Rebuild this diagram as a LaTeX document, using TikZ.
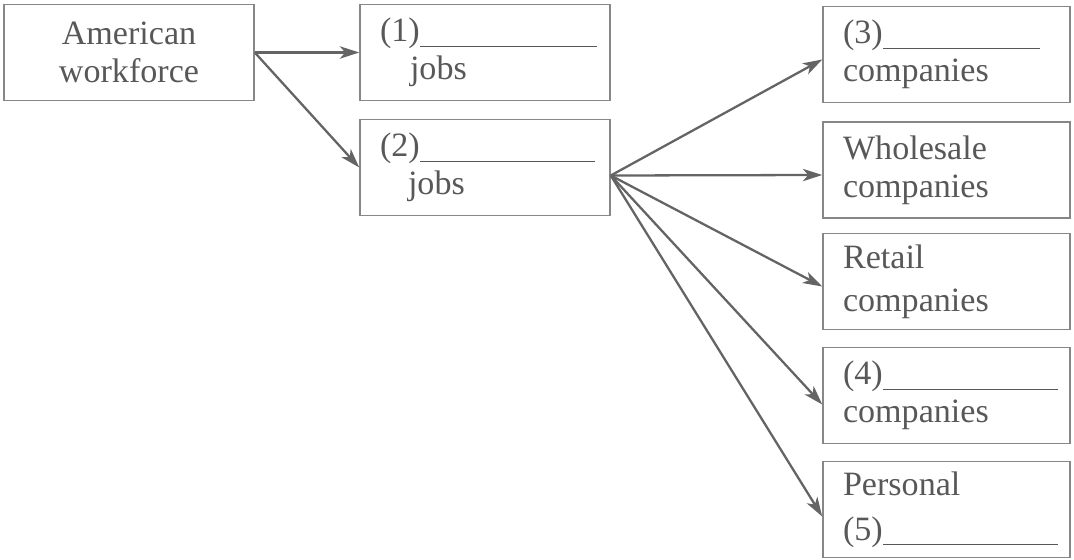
\documentclass[tikz,border=0pt]{standalone}
\usepackage{fontspec}
\setmainfont{Liberation Serif}
\usetikzlibrary{arrows.meta}
\definecolor{inkgray}{RGB}{88,88,88}
\definecolor{boxgray}{RGB}{135,135,135}
\definecolor{arrowgray}{RGB}{100,100,100}
\newcommand{\blankline}[1]{\rule[-3pt]{#1}{0.8pt}}

\begin{document}
\begin{tikzpicture}[
  % one unit = one pixel of the worksheet, y grows downwards
  x=0.02cm, y=-0.02cm,
  >={Stealth[length=11pt, width=7pt, inset=3pt]},
  % plain box style
  wsbox/.style={
    draw=boxgray, line width=0.9pt, minimum height=1.92cm,
    inner xsep=0.4cm, inner ysep=0pt, text=inkgray,
    font=\fontsize{19.4}{21.5}\selectfont
  },
  % middle and right column boxes
  midbox/.style={wsbox, text width=4.2cm, align=left},
  rightbox/.style={wsbox, text width=4.14cm, align=left},
  % connector
  link/.style={->, draw=arrowgray, line width=1.3pt}
]
\useasboundingbox (0,0) rectangle (1074,560);

% ─── Left column ────────────────────────────────────────────────────────────
\node[wsbox, text width=4.2cm, align=center] (workforce)
  at (129, 52.5) {American\\workforce};

% ─── Middle column ──────────────────────────────────────────────────────────
\node[midbox] (jobsone) at (485, 52.5)
  {(1)\blankline{3.54cm}\\\hspace*{0.6cm}jobs};
\node[midbox] (jobstwo) at (485, 167.5)
  {(2)\blankline{3.5cm}\\\hspace*{0.56cm}jobs};

\draw[link] (workforce.east) -- (jobsone.west);
\draw[link] (workforce.east) -- (jobstwo.west);

% ─── Right column ───────────────────────────────────────────────────────────
\node[rightbox] (compthree) at (946.5, 54.5)
  {(3)\blankline{3.14cm}\\companies};
\node[rightbox] (wholesale) at (946.5, 170)
  {Wholesale\\companies};
\node[rightbox] (retail) at (946.5, 281.5)
  {Retail\\[3pt]companies};
\node[rightbox] (compfour) at (946.5, 395.5)
  {(4)\blankline{3.5cm}\\companies};
\node[rightbox] (personal) at (946.5, 509.5)
  {Personal\\[4pt](5)\blankline{3.5cm}};

% fan out from the (2) box
\coordinate (fan) at ([yshift=-0.16cm]jobstwo.east);
\draw[link] (fan) -- ([yshift=-0.1cm]compthree.west);
\draw[link] (fan) -- ([yshift=-0.1cm]wholesale.west);
\draw[link] (fan) -- ([yshift=-0.1cm]retail.west);
\draw[link] (fan) -- ([yshift=-0.18cm]compfour.west);
\draw[link] (fan) -- ([yshift=-0.14cm]personal.west);

\end{tikzpicture}
\end{document}
